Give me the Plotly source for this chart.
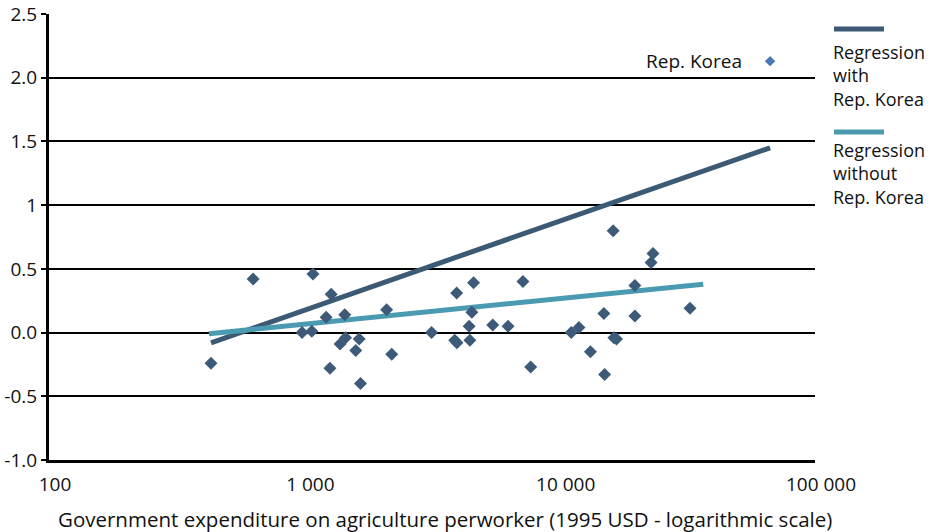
import math
import plotly.graph_objects as go

# Scatter data (government expenditure per worker, 1995 USD ; y value)
pts_x = [431, 630, 1081, 980, 1070, 1274, 1217, 1260, 1380, 1440, 1450, 1590, 1640, 1660, 2100, 2200,
         3150, 3950, 3880, 3960, 4600, 4530, 4420, 4450, 5470, 6280, 7180, 7700, 11100, 11900, 13200,
         14900, 15000, 16200, 16300, 16700, 19700, 19700, 22800, 23200, 32400]
pts_y = [-0.24, 0.42, 0.46, 0.00, 0.01, 0.30, 0.12, -0.28, -0.09, 0.14, -0.04, -0.14, -0.05, -0.40, 0.18, -0.17,
         0.00, 0.31, -0.06, -0.08, 0.39, 0.16, 0.05, -0.06, 0.06, 0.05, 0.40, -0.27, 0.00, 0.04, -0.15,
         0.15, -0.33, 0.80, -0.04, -0.05, 0.37, 0.13, 0.55, 0.62, 0.19]

korea_x = [66700]
korea_y = [2.13]
korea_label = "Rep. Korea"

reg_with_x = [431, 66700]
reg_with_y = [-0.08, 1.45]
reg_without_x = [423, 36500]
reg_without_y = [-0.01, 0.38]

y_ticks = [-1.0, -0.5, 0.0, 0.5, 1.0, 1.5, 2.0, 2.5]
y_tick_labels = ["-1.0", "-0.5", "0.0", "0.5", "1", "1.5", "2.0", "2.5"]
x_ticks = [100, 1000, 10000, 100000]
x_tick_labels = ["100", "1 000", "10 000", "100 000"]

legend_with = "Regression<br>with<br>Rep. Korea"
legend_without = "Regression<br>without<br>Rep. Korea"
x_title = "Government expenditure on agriculture perworker (1995 USD - logarithmic scale)"

DARK = "#3c5a74"
LIGHT = "#4a9bb2"
PT = "#3d5b78"
KOREA = "#4b79b3"
FONT = "Open Sans"
TXT = "#111"
FS = 19

PL, PT_, PW, PH = 49, 14, 766, 446


def py(ypx):
    """page pixel y -> paper y"""
    return 1 - (ypx - PT_) / PH


def px(xpx):
    return (xpx - PL) / PW


fig = go.Figure()
fig.add_trace(go.Scatter(x=reg_with_x, y=reg_with_y, mode="lines",
                         line=dict(color=DARK, width=5), showlegend=False))
fig.add_trace(go.Scatter(x=reg_without_x, y=reg_without_y, mode="lines",
                         line=dict(color=LIGHT, width=5), showlegend=False))
fig.add_trace(go.Scatter(x=pts_x, y=pts_y, mode="markers",
                         marker=dict(symbol="diamond", size=10, color=PT), showlegend=False))
fig.add_trace(go.Scatter(x=korea_x, y=korea_y, mode="markers",
                         marker=dict(symbol="diamond", size=8, color=KOREA), showlegend=False))

fig.add_annotation(x=math.log10(korea_x[0]), y=korea_y[0], xref="x", yref="y", text=korea_label,
                   showarrow=False, xanchor="right", yanchor="middle", xshift=-26,
                   font=dict(family=FONT, size=FS, color=TXT))

# manual legend
for ypx, col, txt, ymid in [(29, DARK, legend_with, 76), (132, LIGHT, legend_without, 174)]:
    fig.add_shape(type="line", xref="paper", yref="paper", x0=px(834), x1=px(884), y0=py(ypx), y1=py(ypx),
                  line=dict(color=col, width=5))
    fig.add_annotation(xref="paper", yref="paper", x=px(831), y=py(ymid), text=txt,
                       showarrow=False, xanchor="left", yanchor="middle", align="left",
                       font=dict(family=FONT, size=18, color=TXT))

fig.add_annotation(xref="paper", yref="paper", x=px(445), y=py(519),
                   text=x_title, showarrow=False, xanchor="center", yanchor="middle",
                   font=dict(family=FONT, size=20.5, color=TXT))

fig.update_layout(
    width=948, height=532,
    margin=dict(l=PL, r=948 - PL - PW, t=PT_, b=532 - PT_ - PH),
    paper_bgcolor="white", plot_bgcolor="white",
    font=dict(family=FONT, size=FS, color=TXT),
)
fig.update_xaxes(type="log", range=[2, 5], tickvals=x_ticks, ticktext=x_tick_labels,
                 showgrid=False, zeroline=False, showline=True, linecolor="black", linewidth=3,
                 ticks="", ticklabelshift=6, ticklabelstandoff=5, automargin=False,
                 tickfont=dict(family=FONT, size=FS, color=TXT))
fig.update_yaxes(range=[-1, 2.5], tickvals=y_ticks, ticktext=y_tick_labels,
                 showgrid=True, gridcolor="black", gridwidth=2, zeroline=False,
                 showline=True, linecolor="black", linewidth=3, automargin=False,
                 ticks="outside", ticklen=5, tickwidth=2, tickcolor="black",
                 ticklabelstandoff=0,
                 tickfont=dict(family=FONT, size=FS, color=TXT))

fig.write_html("out.html", config={"displayModeBar": False},
               post_script="document.body.style.margin='0';")
